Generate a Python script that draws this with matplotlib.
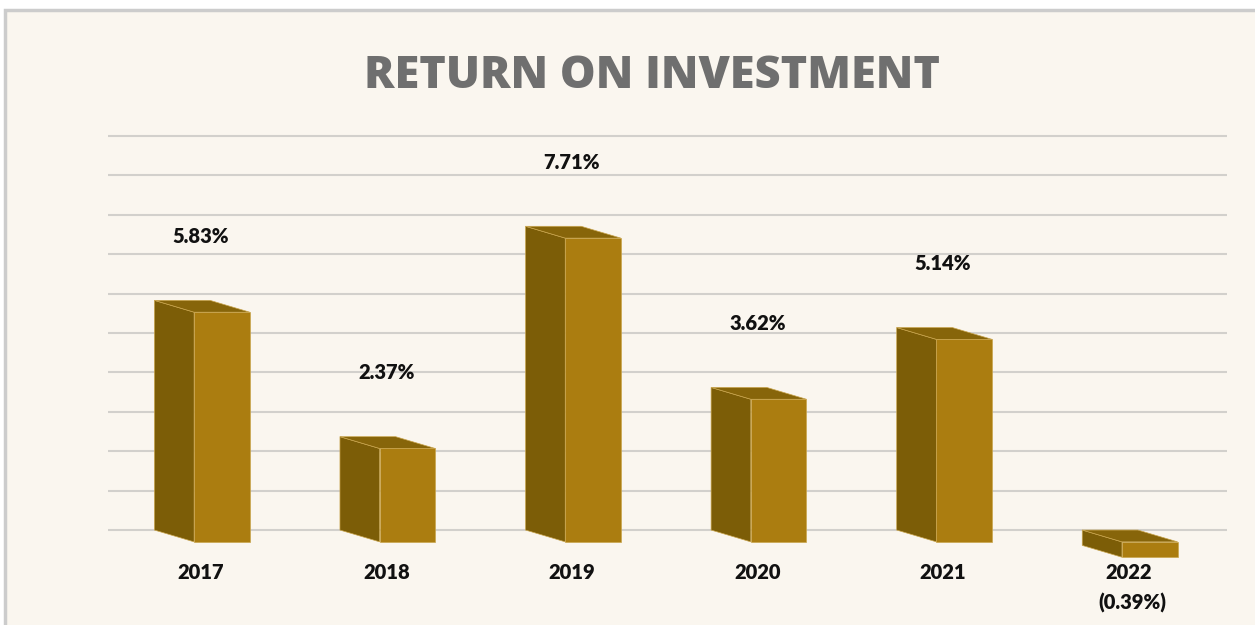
import matplotlib
matplotlib.use("Agg")
from matplotlib import pyplot as plt
from matplotlib.patches import Polygon, Rectangle

years = ["2017", "2018", "2019", "2020", "2021", "2022"]
roi = [5.83, 2.37, 7.71, 3.62, 5.14, -0.39]
value_labels = ["5.83%", "2.37%", "7.71%", "3.62%", "5.14%", "(0.39%)"]

FRONT = "#AB7D10"
SIDE = "#7C5D07"
TOP = "#87650A"
EDGE = "#C9A54E"
GRID = "#D2D0CC"
BG = "#FAF6EF"

plt.rcParams["font.family"] = ["Lato", "DejaVu Sans"]

fig = plt.figure(figsize=(12.55, 6.25), dpi=100)
fig.patch.set_facecolor("white")

# beige panel with grey border (runs off the right and bottom)
panel = Rectangle((5 / 1255, -0.1), 1.1, 1 - 10 / 625 + 0.1,
                  transform=fig.transFigure, facecolor=BG,
                  edgecolor="#CCCCCC", linewidth=2.5, zorder=-5)
fig.patches.append(panel)

ax = fig.add_axes([108 / 1255, 0, 1119 / 1255, 615 / 625])
ax.set_zorder(2)
ax.set_xlim(-0.5, len(years) - 0.47)
ax.set_ylim(-2.41, 13.2)
ax.axis("off")

# back wall gridlines, 0..10 %
for g in range(0, 11):
    ax.plot([-0.5, len(years) - 0.47], [g, g], color=GRID, lw=1.5, zorder=1,
            solid_capstyle="butt")

# fake 3d: back face, offset forward/down by depth
width = 0.30
back_left = -0.25
dx = 0.214
dy = -0.30

lab = dict(fontsize=14.5, fontweight="heavy", color="#111111",
           ha="center", va="center", clip_on=False)

for i, v in enumerate(roi):
    bl = i + back_left
    br = bl + width
    top = max(v, 0)
    bot = min(v, 0)
    # left side face
    side = Polygon([(bl, bot), (bl, top), (bl + dx, top + dy), (bl + dx, bot + dy)],
                   closed=True, facecolor=SIDE, edgecolor=EDGE, lw=0.5, zorder=3)
    # top face
    topf = Polygon([(bl, top), (br, top), (br + dx, top + dy), (bl + dx, top + dy)],
                   closed=True, facecolor=TOP, edgecolor=EDGE, lw=0.5, zorder=3)
    # front face
    front = Polygon([(bl + dx, bot + dy), (bl + dx, top + dy),
                     (br + dx, top + dy), (br + dx, bot + dy)],
                    closed=True, facecolor=FRONT, edgecolor=EDGE, lw=0.5, zorder=4)
    ax.add_patch(side)
    ax.add_patch(topf)
    ax.add_patch(front)

    ax.text(i, -1.09, years[i], **lab)
    if v >= 0:
        ax.text(i, v + 1.62, value_labels[i], **lab)
    else:
        ax.text(i + 0.02, -1.85, value_labels[i], **lab)

fig.text(652 / 1255, 1 - 76 / 625, "RETURN ON INVESTMENT", ha="center",
         va="center", fontsize=32.5, fontweight="heavy", color="#6F6F6F",
         family=["Open Sans", "DejaVu Sans"])

fig.savefig("out.png", dpi=100, facecolor="white")
